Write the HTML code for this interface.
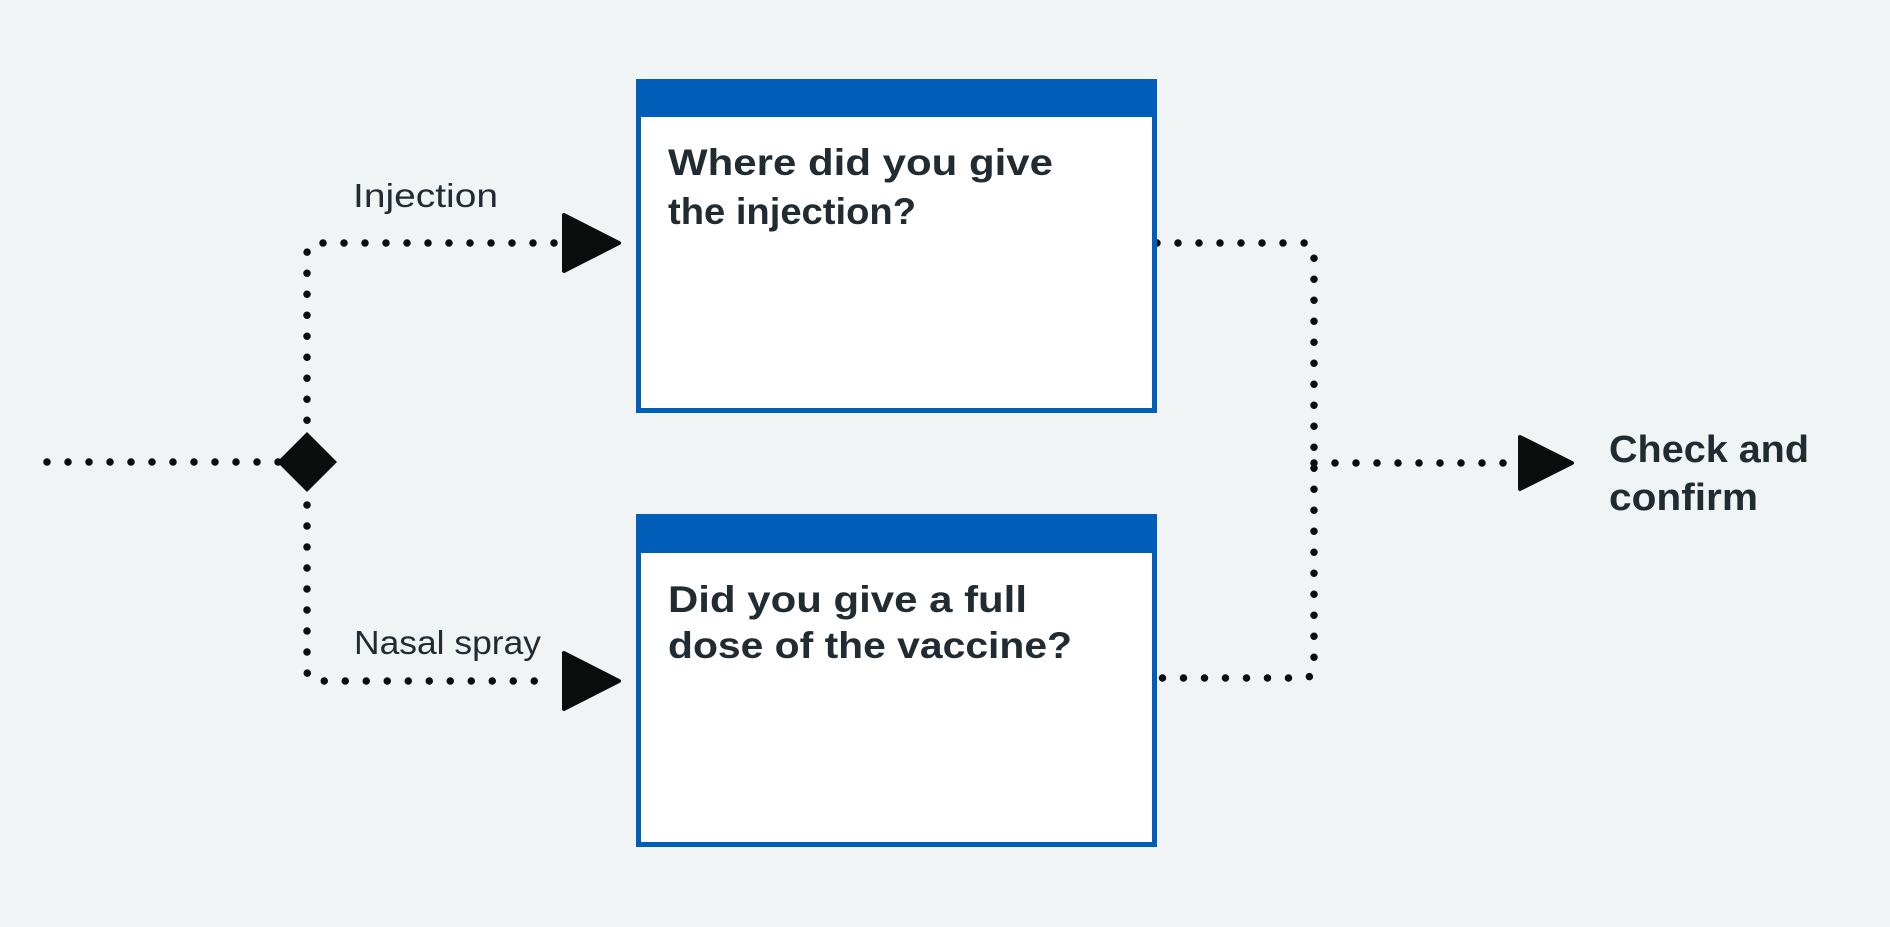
<!DOCTYPE html>
<html><head><meta charset="utf-8"><style>
html,body{margin:0;padding:0;background:#f0f4f5;}
svg{display:block}
text{font-family:"Liberation Sans",sans-serif;fill:#212b32}
</style></head><body>
<svg width="1890" height="927" viewBox="0 0 1890 927" xmlns="http://www.w3.org/2000/svg">
<rect width="1890" height="927" fill="#f0f4f5"/>
<g fill="none" stroke="#0b0c0c" stroke-width="7.5" stroke-linecap="round" stroke-dasharray="0 21">
<path d="M47 462 H280"/>
<path d="M554 243 H318 Q307 243 307 254 V440"/>
<path d="M307 484 V670 Q307 681 318 681 H554"/>
<path d="M1157 243 H1303 Q1314 243 1314 254 V667 Q1314 678 1303 678 H1157"/>
<path d="M1314 463 H1505"/>
</g>
<polygon points="307,432 337,462 307,492 277,462" fill="#0b0c0c"/>
<polygon points="564,215 619,243 564,271" fill="#0b0c0c" stroke="#0b0c0c" stroke-width="4" stroke-linejoin="round"/>
<polygon points="564,653 619,681 564,709" fill="#0b0c0c" stroke="#0b0c0c" stroke-width="4" stroke-linejoin="round"/>
<polygon points="1520,437 1572,463 1520,489" fill="#0b0c0c" stroke="#0b0c0c" stroke-width="4" stroke-linejoin="round"/>
<rect x="638.5" y="81.5" width="516" height="329" fill="#fff" stroke="#005eb8" stroke-width="5"/>
<rect x="636" y="79" width="521" height="38" fill="#005eb8"/>
<rect x="638.5" y="516.5" width="516" height="328" fill="#fff" stroke="#005eb8" stroke-width="5"/>
<rect x="636" y="514" width="521" height="39" fill="#005eb8"/>
<text x="353" y="207" font-size="33" textLength="145" lengthAdjust="spacingAndGlyphs">Injection</text>
<text x="354" y="654" font-size="33" textLength="187" lengthAdjust="spacingAndGlyphs">Nasal spray</text>
<text x="668" y="175" font-size="37" font-weight="bold" textLength="385" lengthAdjust="spacingAndGlyphs">Where did you give</text>
<text x="668" y="224" font-size="37" font-weight="bold" textLength="248" lengthAdjust="spacingAndGlyphs">the injection?</text>
<text x="668" y="612" font-size="37" font-weight="bold" textLength="359" lengthAdjust="spacingAndGlyphs">Did you give a full</text>
<text x="668" y="658" font-size="37" font-weight="bold" textLength="404" lengthAdjust="spacingAndGlyphs">dose of the vaccine?</text>
<text x="1609" y="462" font-size="38" font-weight="bold" textLength="200" lengthAdjust="spacingAndGlyphs">Check and</text>
<text x="1609" y="510" font-size="38" font-weight="bold" textLength="149" lengthAdjust="spacingAndGlyphs">confirm</text>
</svg>
</body></html>
